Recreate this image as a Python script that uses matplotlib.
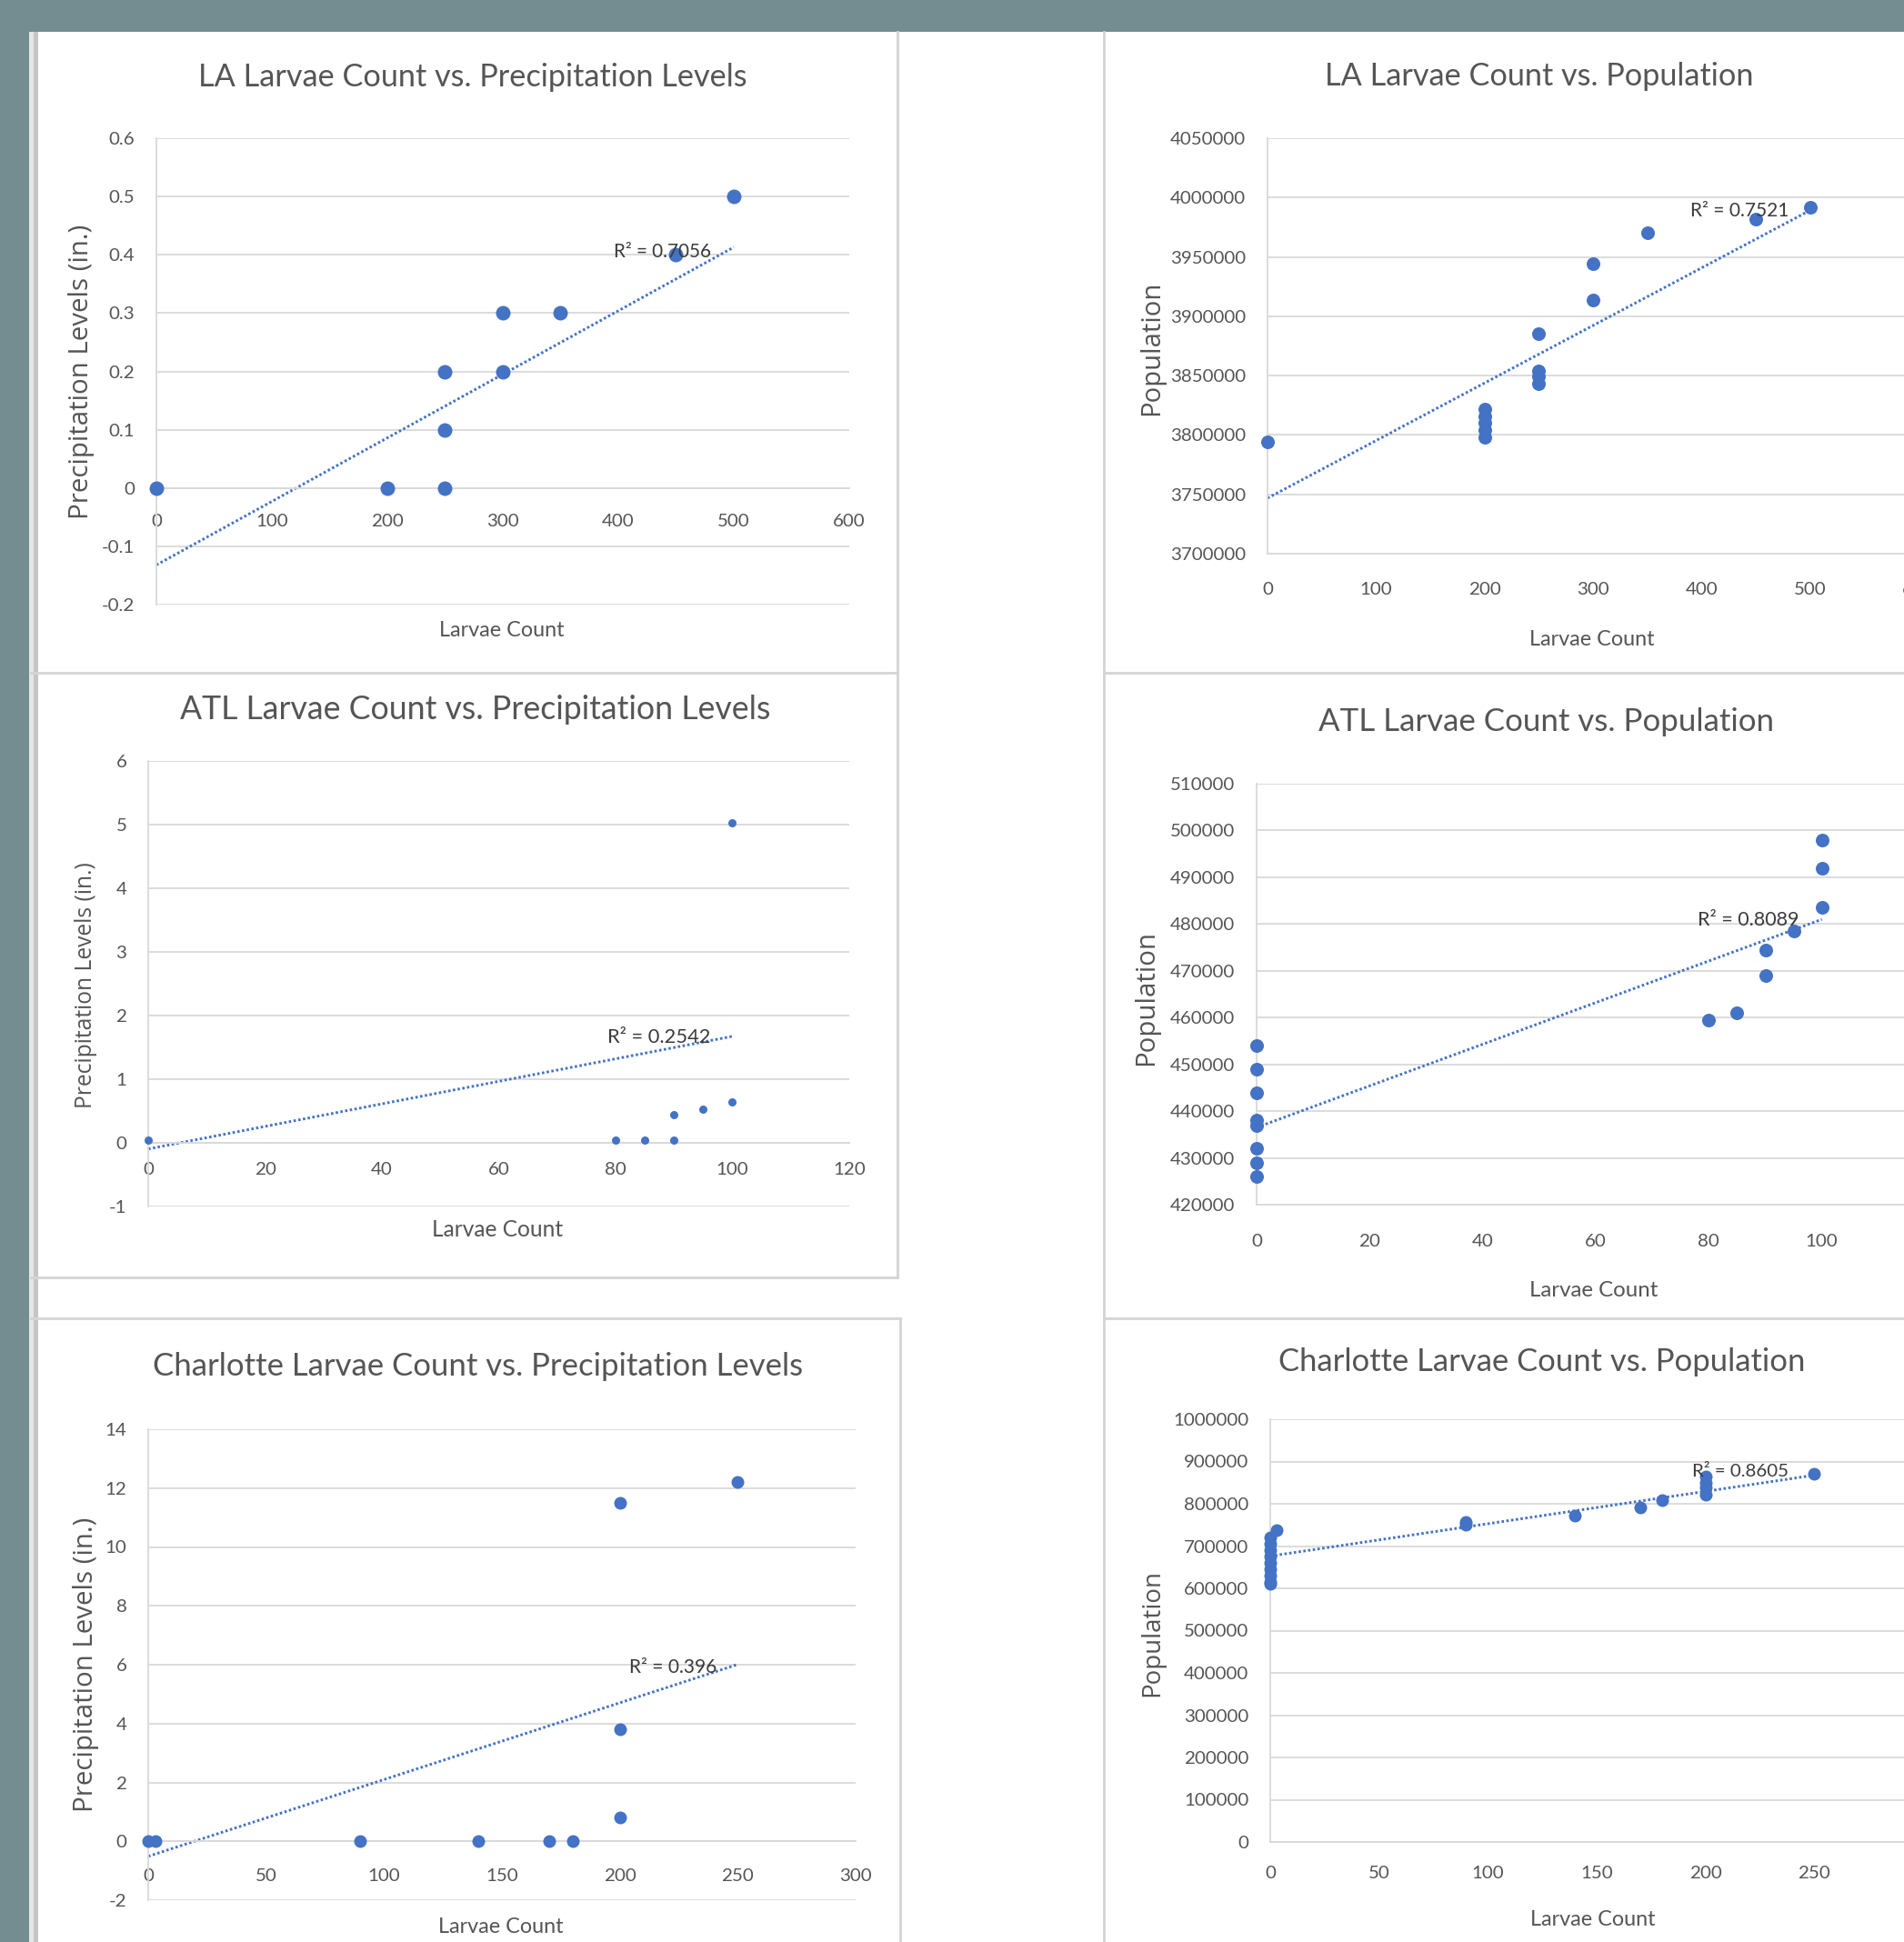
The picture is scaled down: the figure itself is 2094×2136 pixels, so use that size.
import numpy as np
import matplotlib
matplotlib.use("Agg")
import matplotlib.pyplot as plt
from matplotlib.patches import Rectangle
from matplotlib.lines import Line2D

# ---------------- data ----------------
# LA: larvae count vs precipitation
la_larvae_precip = [0, 200, 250, 250, 250, 300, 300, 350, 450, 500]
la_precip = [0.0, 0.0, 0.0, 0.1, 0.2, 0.2, 0.3, 0.3, 0.4, 0.5]
la_precip_trend = [-0.132, 0.00109]            # intercept, slope (Excel linear trendline)
la_precip_r2 = "R² = 0.7056"
la_precip_xticks = [0, 100, 200, 300, 400, 500, 600]
la_precip_yticks = [-0.2, -0.1, 0, 0.1, 0.2, 0.3, 0.4, 0.5, 0.6]

# LA: larvae count vs population
la_larvae_pop = [0, 200, 200, 200, 200, 200, 250, 250, 250, 250, 300, 300, 350, 450, 500]
la_pop = [3794000, 3822000, 3816000, 3810000, 3804000, 3798000, 3885000, 3854000,
          3849000, 3843000, 3944000, 3914000, 3970000, 3982000, 3992000]
la_pop_trend = [3746800, 484.8]
la_pop_r2 = "R² = 0.7521"
la_pop_xticks = [0, 100, 200, 300, 400, 500, 600]
la_pop_yticks = [3700000, 3750000, 3800000, 3850000, 3900000, 3950000, 4000000, 4050000]

# ATL: larvae count vs precipitation
atl_larvae_precip = [0, 80, 85, 90, 90, 95, 100, 100]
atl_precip = [0.04, 0.04, 0.04, 0.04, 0.45, 0.53, 0.65, 5.03]
atl_precip_trend = [-0.096, 0.0177]
atl_precip_r2 = "R² = 0.2542"
atl_precip_xticks = [0, 20, 40, 60, 80, 100, 120]
atl_precip_yticks = [-1, 0, 1, 2, 3, 4, 5, 6]

# ATL: larvae count vs population
atl_larvae_pop = [0, 0, 0, 0, 0, 0, 0, 0, 80, 85, 90, 90, 95, 100, 100, 100]
atl_pop = [454000, 449000, 444000, 438000, 437000, 432000, 429000, 426000,
           459500, 461000, 474500, 469000, 478500, 498000, 492000, 483500]
atl_pop_trend = [436500, 445.0]
atl_pop_r2 = "R² = 0.8089"
atl_pop_xticks = [0, 20, 40, 60, 80, 100, 120]
atl_pop_yticks = [420000, 430000, 440000, 450000, 460000, 470000, 480000, 490000, 500000, 510000]

# Charlotte: larvae count vs precipitation
clt_larvae_precip = [0, 3, 90, 140, 170, 180, 200, 200, 200, 250]
clt_precip = [0, 0, 0, 0, 0, 0, 0.8, 3.8, 11.5, 12.2]
clt_precip_trend = [-0.51, 0.02608]
clt_precip_r2 = "R² = 0.396"
clt_precip_xticks = [0, 50, 100, 150, 200, 250, 300]
clt_precip_yticks = [-2, 0, 2, 4, 6, 8, 10, 12, 14]

# Charlotte: larvae count vs population
clt_larvae_pop = [0, 0, 0, 0, 0, 0, 0, 0, 0, 3, 90, 90, 140, 170, 180, 200, 200, 200, 200, 250]
clt_pop = [720000, 705000, 690000, 675000, 660000, 645000, 630000, 615000, 610000, 737000,
           757000, 750000, 773000, 792000, 808000, 865000, 850000, 838000, 822000, 870000]
clt_pop_trend = [676300, 765.2]
clt_pop_r2 = "R² = 0.8605"
clt_pop_xticks = [0, 50, 100, 150, 200, 250, 300]
clt_pop_yticks = [0, 100000, 200000, 300000, 400000, 500000, 600000, 700000, 800000, 900000, 1000000]

titles = ["LA Larvae Count vs. Precipitation Levels", "LA Larvae Count vs. Population",
          "ATL Larvae Count vs. Precipitation Levels", "ATL Larvae Count vs. Population",
          "Charlotte Larvae Count vs. Precipitation Levels", "Charlotte Larvae Count vs. Population"]
xlabel_text = "Larvae Count"
ylabel_precip = "Precipitation Levels (in.)"
ylabel_pop = "Population"

# ---------------- style / layout ----------------
W, H, DPI = 2094, 2136, 100
TEAL = "#738d91"
BLUE = "#4472C4"
GRID = "#d9d9d9"
TXT = "#555555"
BORDER = "#d4d4d4"

plt.rcParams["axes.unicode_minus"] = False
plt.rcParams["font.family"] = ["Lato", "DejaVu Sans"]

fig = plt.figure(figsize=(W / DPI, H / DPI), dpi=DPI)
fig.patch.set_facecolor("white")


def frect(x0, y0, x1, y1, color, z=-2):
    fig.add_artist(Rectangle((x0 / W, 1 - y1 / H), (x1 - x0) / W, (y1 - y0) / H,
                             transform=fig.transFigure, facecolor=color,
                             edgecolor="none", zorder=z))


def fline(x0, y0, x1, y1, color=BORDER, lw=2.0):
    fig.add_artist(Line2D([x0 / W, x1 / W], [1 - y0 / H, 1 - y1 / H],
                          transform=fig.transFigure, color=color, lw=lw, zorder=-1))


# screenshot background
frect(0, 0, W, 35, TEAL)
frect(0, 0, 32, H, TEAL)
frect(32, 35, 37, H, "#e6e6e6")
frect(37, 35, 42, H, "#c6c6c6")
fline(987, 35, 987, 1405)
fline(34, 740, 987, 740)
fline(34, 1405, 987, 1405)
fline(34, 1450, 990, 1450)
fline(990, 1450, 990, H)
fline(1214, 35, 1214, H)
fline(1214, 740, W, 740)
fline(1214, 1450, W, 1450)

panels = [
    dict(x=la_larvae_precip, y=la_precip, trend=la_precip_trend, r2=la_precip_r2,
         xt=la_precip_xticks, yt=la_precip_yticks, ylabel=ylabel_precip, zero_axis=True,
         box=(172, 152, 934, 665), title=(520, 85, 603), xl=(552, 693, 138),
         yl=(90, 409, 325), r2pos=(675, 277, 107), ms=16, xpad=20.0),
    dict(x=la_larvae_pop, y=la_pop, trend=la_pop_trend, r2=la_pop_r2,
         xt=la_pop_xticks, yt=la_pop_yticks, ylabel=ylabel_pop, zero_axis=False,
         box=(1394, 152, 2110, 609), title=(1693, 84, 470), xl=(1751, 703, 138),
         yl=(1267, 383, 148), r2pos=(1859, 232, 108), ms=15, xpad=22.5),
    dict(x=atl_larvae_precip, y=atl_precip, trend=atl_precip_trend, r2=atl_precip_r2,
         xt=atl_precip_xticks, yt=atl_precip_yticks, ylabel=ylabel_precip, zero_axis=True,
         box=(163, 837, 934, 1327), title=(523, 781, 647), xl=(547, 1352, 145),
         yl=(95, 1084, 272), r2pos=(668, 1141, 113), ms=9, xpad=15.3),
    dict(x=atl_larvae_pop, y=atl_pop, trend=atl_pop_trend, r2=atl_pop_r2,
         xt=atl_pop_xticks, yt=atl_pop_yticks, ylabel=ylabel_pop, zero_axis=False,
         box=(1382, 862, 2128, 1325), title=(1701, 794, 500), xl=(1753, 1419, 142),
         yl=(1261, 1097, 149), r2pos=(1867, 1012, 111), ms=15, xpad=23.0),
    dict(x=clt_larvae_precip, y=clt_precip, trend=clt_precip_trend, r2=clt_precip_r2,
         xt=clt_precip_xticks, yt=clt_precip_yticks, ylabel=ylabel_precip, zero_axis=True,
         box=(163, 1572, 941, 2090), title=(526, 1503, 712), xl=(551, 2119, 138),
         yl=(95, 1831, 326), r2pos=(692, 1834, 96), ms=14, xpad=21.5),
    dict(x=clt_larvae_pop, y=clt_pop, trend=clt_pop_trend, r2=clt_pop_r2,
         xt=clt_pop_xticks, yt=clt_pop_yticks, ylabel=ylabel_pop, zero_axis=False,
         box=(1397, 1561, 2115, 2026), title=(1696, 1498, 578), xl=(1752, 2112, 138),
         yl=(1267, 1796, 140), r2pos=(1861, 1619, 105), ms=14, xpad=19.0),
]

# tick font size fitted so that "4050000" is ~83 px wide
probe = fig.text(0, 0, "4050000", fontsize=10)
renderer = fig.canvas.get_renderer()
TICK_FS = 10 * 83 / probe.get_window_extent(renderer=renderer).width
probe.remove()


def fmt(v):
    v = float(np.round(v, 6)) + 0.0
    if abs(v) >= 1000:
        return f"{int(round(v))}"
    return f"{v:g}"


to_fit = []
for title, p in zip(titles, panels):
    L, T, R, B = p["box"]
    ax = fig.add_axes([L / W, 1 - B / H, (R - L) / W, (B - T) / H])
    ax.set_facecolor("none")

    def ax_coords(px, py):
        return (px - L) / (R - L), (B - py) / (B - T)

    xt, yt = p["xt"], p["yt"]
    ax.set_xlim(xt[0], xt[-1])
    ax.set_ylim(yt[0], yt[-1])
    ax.set_xticks(xt)
    ax.set_xticklabels([fmt(v) for v in xt])
    ax.set_yticks(yt)
    ax.set_yticklabels([fmt(v) for v in yt])
    ax.tick_params(axis="both", length=0, labelsize=TICK_FS, labelcolor=TXT)
    ax.tick_params(axis="y", pad=17)
    ax.tick_params(axis="x", pad=p["xpad"])
    ax.yaxis.grid(True, color=GRID, lw=1.3)
    ax.xaxis.grid(False)
    ax.set_axisbelow(True)
    for s in ("top", "right"):
        ax.spines[s].set_visible(False)
    ax.spines["left"].set_color(GRID)
    ax.spines["left"].set_linewidth(1.3)
    ax.spines["bottom"].set_color(GRID)
    ax.spines["bottom"].set_linewidth(1.3)
    if p["zero_axis"]:
        ax.spines["bottom"].set_position(("data", 0))

    d_pt = p["ms"] / (DPI / 72)
    ax.scatter(p["x"], p["y"], s=d_pt ** 2, color=BLUE, linewidths=0,
               zorder=3, clip_on=False)
    xs = np.array([min(p["x"]), max(p["x"])], dtype=float)
    b0, b1 = p["trend"]
    ax.plot(xs, b0 + b1 * xs, color=BLUE, lw=2.1, ls=(0, (0.9, 0.9)),
            zorder=2, clip_on=False)

    tx, ty = ax_coords(p["title"][0], p["title"][1])
    t = ax.set_title(title, x=tx, y=ty, pad=0, va="center", ha="center",
                     fontsize=22, color=TXT)
    to_fit.append((t, p["title"][2], False))

    lx, ly = ax_coords(p["xl"][0], p["xl"][1])
    t = ax.set_xlabel(xlabel_text, fontsize=16, color=TXT, va="center")
    ax.xaxis.set_label_coords(lx, ly)
    to_fit.append((t, p["xl"][2], False))

    yx, yy = ax_coords(p["yl"][0], p["yl"][1])
    t = ax.set_ylabel(p["ylabel"], fontsize=16, color=TXT, va="center",
                      family=["Open Sans", "DejaVu Sans"])
    ax.yaxis.set_label_coords(yx, yy)
    to_fit.append((t, p["yl"][2], True))

    rx, ry = ax_coords(p["r2pos"][0], p["r2pos"][1])
    t = ax.text(rx, ry, p["r2"], transform=ax.transAxes, ha="left", va="center",
                fontsize=13, color="#3a3a3a", zorder=4)
    to_fit.append((t, p["r2pos"][2], False))

renderer = fig.canvas.get_renderer()
for t, target, vertical in to_fit:
    bb = t.get_window_extent(renderer=renderer)
    cur = bb.height if vertical else bb.width
    if cur > 0:
        t.set_fontsize(t.get_fontsize() * target / cur)

fig.savefig("out.png", dpi=DPI, facecolor="white")
